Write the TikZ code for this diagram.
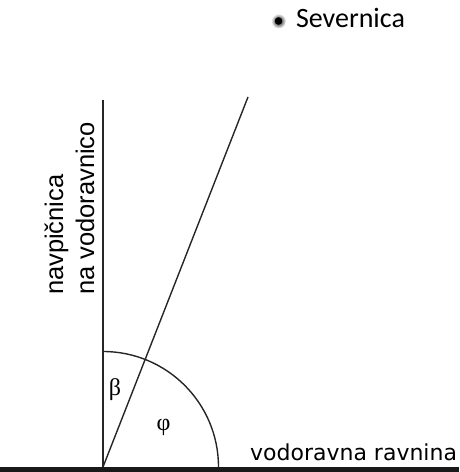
\documentclass[tikz,border=0pt]{standalone}
\usepackage{fontspec}
\usetikzlibrary{calc}
\setmainfont{Liberation Sans}
\newfontfamily\calfont{Carlito}
\newfontfamily\djvfont{DejaVu Sans}
\newfontfamily\grkfont{Liberation Serif}
\begin{document}
\begin{tikzpicture}[x=1pt,y=1pt,
  thinline/.style={line width=1.4pt,black!85},
  lbl/.style={inner sep=0pt,outer sep=0pt}]
\useasboundingbox (0,0) rectangle (459,472);
\coordinate (O) at (103,5);
\coordinate (vtop) at (103,372);
\coordinate (itop) at (248,375);
\coordinate (bl) at (0,2.7);
\coordinate (br) at (459,2.7);
% ground
\draw[line width=5.4pt,black!90] (bl) -- (br);
% vertical
\draw[thinline] (O) -- (vtop);
% inclined
\draw[thinline] (O) -- (itop);
% arc
\draw[thinline] ($(O)+(115.5,0)$) arc[start angle=0,end angle=90,radius=115.5];
% north star
\shade[inner color=black,outer color=white] (278.5,451) circle (7.5);
\fill[black] (278.5,451) circle (3.8) coordinate (star);
\node[lbl,anchor=base west,font=\calfont\fontsize{28}{32}\selectfont] (sev) at (296,444) {Severnica};
\node[lbl,anchor=base east,font=\djvfont\fontsize{22}{26}\selectfont] (hor) at (457,12) {vodoravna ravnina};
\node[lbl,anchor=base west,rotate=90,font=\fontsize{25.5}{30}\selectfont] (v1) at (63,177) {navpičnica};
\node[lbl,anchor=base west,rotate=90,font=\fontsize{25.5}{30}\selectfont] (v2) at (94,177) {na vodoravnico};
\node[lbl,font=\grkfont\fontsize{24}{28}\selectfont] (beta) at (115,82.5) {β};
\node[lbl,font=\grkfont\fontsize{24}{28}\selectfont] (phi) at (163.5,45) {φ};
\end{tikzpicture}
\end{document}
